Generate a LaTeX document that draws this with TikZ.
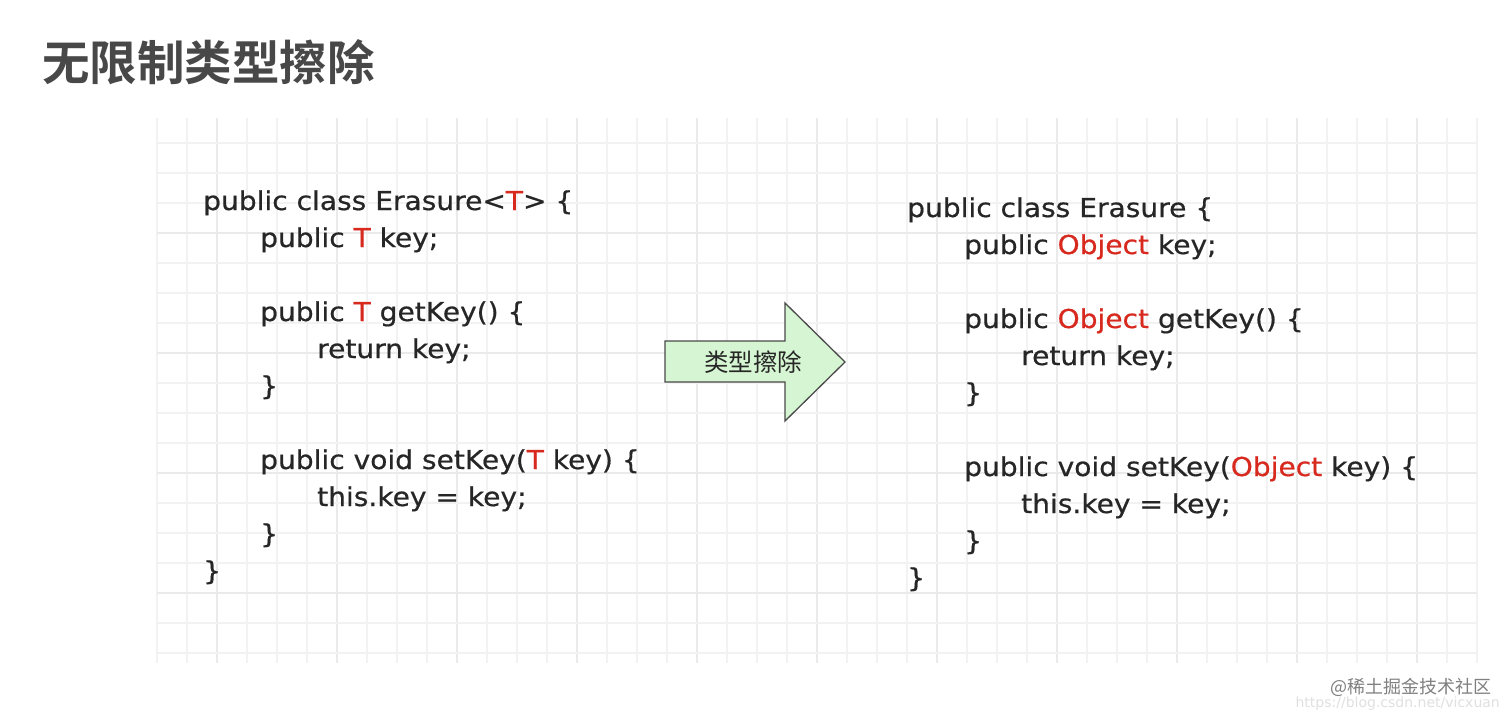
\documentclass[tikz,border=0pt]{standalone}
\usepackage{fontspec}
\setmainfont{DejaVu Sans}
\newfontfamily\codefont{DejaVu Sans}[FakeStretch=1.08, FakeBold=0.6]
\newfontfamily\cjk{Noto Sans CJK SC}
\newfontfamily\cjkbold{Noto Sans CJK SC Bold}
\definecolor{codetext}{HTML}{262626}
\definecolor{codered}{HTML}{D8291F}
\definecolor{titlegray}{HTML}{484848}
\definecolor{gridline}{HTML}{F2F2F2}
\definecolor{gridmajor}{HTML}{EAEAEA}
\definecolor{arrowfill}{HTML}{D6F5D2}
\definecolor{arrowline}{HTML}{4A4A4A}
\newcommand{\rd}[1]{\textcolor{codered}{#1}}
\tikzset{
  codeline/.style={anchor=base west, inner sep=0pt, text=codetext, font=\codefont\fontsize{26}{30}\selectfont},
}
\begin{document}
\begin{tikzpicture}[x=1pt,y=-1pt]
\useasboundingbox (0,0) rectangle (1512,717);
\fill[white] (0,0) rectangle (1512,717);
% grid
\foreach \k in {0,...,44} {
  \pgfmathtruncatemacro{\m}{mod(\k,4)}
  \ifnum\m=2 \def\gc{gridmajor}\else\def\gc{gridline}\fi
  \draw[\gc, line width=1.5pt] ({157+30*\k},118) -- ({157+30*\k},663);
}
\foreach \k in {0,...,17} {
  \pgfmathtruncatemacro{\m}{mod(\k,4)}
  \ifnum\m=3 \def\gc{gridmajor}\else\def\gc{gridline}\fi
  \draw[\gc, line width=1.5pt] (157,{143+30*\k}) -- (1477,{143+30*\k});
}
% title
\node[anchor=west, inner sep=0pt, text=titlegray, font=\cjkbold\fontsize{47.5}{50}\selectfont] (title) at (42,62) {无限制类型擦除};
% left code
\node[codeline] (l1) at (203,210) {public class Erasure<\rd{T}> \{};
\node[codeline] (l2) at (260,247) {public \rd{T} key;};
\node[codeline] (l3) at (260,321) {public \rd{T} getKey() \{};
\node[codeline] (l4) at (317,358) {return key;};
\node[codeline] (l5) at (260,395) {\}};
\node[codeline] (l6) at (260,469) {public void setKey(\rd{T} key) \{};
\node[codeline] (l7) at (317,506) {this.key = key;};
\node[codeline] (l8) at (260,543) {\}};
\node[codeline] (l9) at (203,580) {\}};
% right code
\node[codeline] (r1) at (907,217) {public class Erasure \{};
\node[codeline] (r2) at (964,254) {public \rd{Object} key;};
\node[codeline] (r3) at (964,328) {public \rd{Object} getKey() \{};
\node[codeline] (r4) at (1021,365) {return key;};
\node[codeline] (r5) at (964,402) {\}};
\node[codeline] (r6) at (964,476) {public void setKey(\rd{Object} key) \{};
\node[codeline] (r7) at (1021,513) {this.key = key;};
\node[codeline] (r8) at (964,550) {\}};
\node[codeline] (r9) at (907,587) {\}};
% arrow
\draw[fill=arrowfill, draw=arrowline, line width=1.3pt, line join=miter]
  (665,341) -- (785,341) -- (785,303) -- (845,362) -- (785,421) -- (785,382) -- (665,382) -- cycle;
\node[inner sep=0pt, text=codetext, font=\cjk\fontsize{24.5}{26}\selectfont] (lab) at (753,362) {类型擦除};
% watermark
\node[anchor=east, inner sep=0pt, text=black!50, font=\cjk\fontsize{18}{20}\selectfont] (wm) at (1492,687) {@稀土掘金技术社区};
\node[anchor=east, inner sep=0pt, text=black!12, font=\fontsize{14}{16}\selectfont] (url) at (1500,704) {https://blog.csdn.net/vicxuan};
\end{tikzpicture}
\end{document}
